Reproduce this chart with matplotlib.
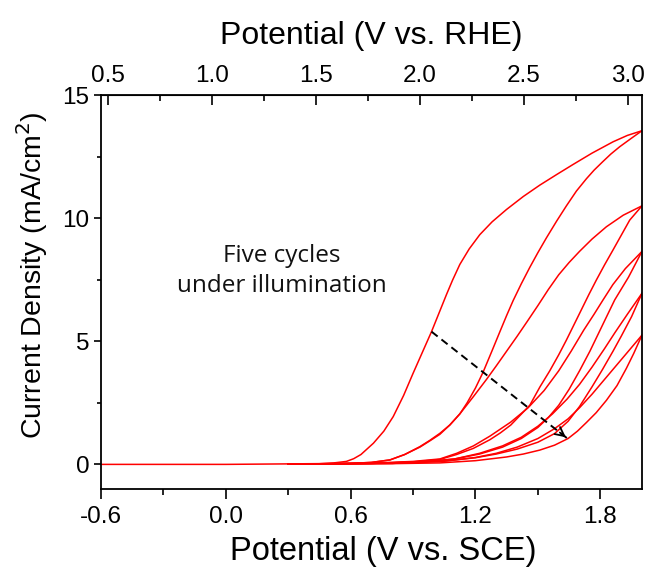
import numpy as np
import matplotlib
matplotlib.use('Agg')
import matplotlib.pyplot as plt
from matplotlib.ticker import MultipleLocator

# --- Data (V vs. SCE, mA/cm2) ---
c1_fwd_v = [-0.6, -0.3, 0.0, 0.3, 0.45, 0.52, 0.58, 0.615, 0.65, 0.71, 0.76, 0.805, 0.855, 0.90,
            0.945, 0.989, 1.03, 1.061, 1.09, 1.125, 1.17, 1.221, 1.28, 1.349, 1.43, 1.509, 1.59,
            1.669, 1.76, 1.861, 1.93, 2.0]
c1_fwd_j = [0.0, 0.0, 0.0, 0.02, 0.03, 0.06, 0.12, 0.23, 0.4, 0.86, 1.35, 1.94, 2.8, 3.69,
            4.55, 5.39, 6.25, 6.9, 7.48, 8.12, 8.75, 9.33, 9.85, 10.35, 10.88, 11.34, 11.77,
            12.18, 12.64, 13.1, 13.36, 13.55]

c1_bwd_v = [2.0, 1.95, 1.893, 1.85, 1.81, 1.77, 1.733, 1.685, 1.637, 1.59, 1.541, 1.50, 1.461,
            1.42, 1.381, 1.35, 1.317, 1.28, 1.237, 1.20, 1.16, 1.125, 1.077, 1.029, 0.98, 0.933,
            0.86, 0.789, 0.7, 0.6, 0.45, 0.3]
c1_bwd_j = [13.55, 13.25, 12.9, 12.6, 12.28, 11.95, 11.6, 11.1, 10.5, 9.88, 9.2, 8.6, 8.0,
            7.33, 6.65, 6.05, 5.38, 4.62, 3.75, 3.1, 2.5, 2.05, 1.6, 1.26, 0.97, 0.72,
            0.4, 0.18, 0.08, 0.04, 0.02, 0.01]

c2_fwd_v = [0.3, 0.6, 0.7, 0.789, 0.86, 0.933, 0.98, 1.029, 1.077, 1.125, 1.19, 1.253, 1.30,
            1.35, 1.40, 1.45, 1.50, 1.55, 1.60, 1.65, 1.70, 1.76, 1.829, 1.91, 2.0]
c2_fwd_j = [0.01, 0.04, 0.08, 0.18, 0.4, 0.7, 0.95, 1.22, 1.6, 2.05, 2.75, 3.45, 4.0,
            4.6, 5.2, 5.82, 6.45, 7.1, 7.7, 8.2, 8.65, 9.15, 9.65, 10.12, 10.5]

c2_bwd_v = [2.0, 1.941, 1.9, 1.861, 1.82, 1.781, 1.745, 1.71, 1.675, 1.637, 1.6, 1.557, 1.51,
            1.461, 1.41, 1.37, 1.32, 1.269, 1.19, 1.109, 1.029, 0.9, 0.75, 0.6, 0.3]
c2_bwd_j = [10.5, 9.92, 9.3, 8.71, 8.1, 7.49, 6.9, 6.3, 5.7, 5.05, 4.45, 3.8, 3.15,
            2.4, 1.95, 1.6, 1.28, 1.0, 0.65, 0.4, 0.2, 0.1, 0.05, 0.03, 0.01]

c3_fwd_v = [0.3, 0.7, 0.9, 1.029, 1.11, 1.19, 1.27, 1.37, 1.453, 1.53, 1.6, 1.66, 1.72, 1.77,
            1.813, 1.86, 1.92, 2.0]
c3_fwd_j = [0.01, 0.05, 0.12, 0.22, 0.45, 0.75, 1.15, 1.72, 2.3, 3.0, 3.8, 4.6, 5.45, 6.1,
            6.68, 7.3, 7.95, 8.65]

c3_bwd_v = [2.0, 1.935, 1.869, 1.83, 1.79, 1.75, 1.7, 1.65, 1.6, 1.55, 1.5, 1.42, 1.33, 1.22,
            1.1, 0.95, 0.7, 0.3]
c3_bwd_j = [8.65, 7.6, 6.68, 6.0, 5.3, 4.6, 3.8, 3.05, 2.4, 1.9, 1.5, 1.05, 0.7, 0.42,
            0.22, 0.1, 0.04, 0.01]

c4_fwd_v = [0.3, 0.7, 0.95, 1.1, 1.22, 1.33, 1.42, 1.5, 1.57, 1.64, 1.7, 1.76, 1.82, 1.87,
            1.93, 2.0]
c4_fwd_j = [0.01, 0.04, 0.1, 0.22, 0.45, 0.75, 1.1, 1.55, 2.05, 2.65, 3.25, 3.95, 4.7, 5.35,
            6.1, 6.95]

c4_bwd_v = [2.0, 1.95, 1.9, 1.861, 1.81, 1.76, 1.7, 1.645, 1.58, 1.5, 1.4, 1.3, 1.2, 1.05,
            0.8, 0.3]
c4_bwd_j = [6.95, 6.0, 5.2, 4.6, 3.85, 3.15, 2.35, 1.75, 1.25, 0.9, 0.62, 0.42, 0.27, 0.13,
            0.04, 0.01]

c5_fwd_v = [0.3, 0.8, 1.05, 1.2, 1.3, 1.4, 1.5, 1.58, 1.645, 1.7, 1.76, 1.82, 1.88, 1.94, 2.0]
c5_fwd_j = [0.01, 0.04, 0.13, 0.28, 0.45, 0.7, 1.05, 1.45, 1.85, 2.3, 2.85, 3.45, 4.05, 4.65,
            5.25]

c5_bwd_v = [2.0, 1.96, 1.925, 1.88, 1.829, 1.78, 1.733, 1.69, 1.645, 1.58, 1.509, 1.43, 1.349,
            1.2, 1.029, 0.8, 0.3]
c5_bwd_j = [5.25, 4.5, 3.9, 3.2, 2.6, 2.1, 1.7, 1.35, 1.05, 0.78, 0.58, 0.42, 0.3,
            0.15, 0.06, 0.03, 0.01]

curves = [
    (c1_fwd_v, c1_fwd_j), (c1_bwd_v, c1_bwd_j),
    (c2_fwd_v, c2_fwd_j), (c2_bwd_v, c2_bwd_j),
    (c3_fwd_v, c3_fwd_j), (c3_bwd_v, c3_bwd_j),
    (c4_fwd_v, c4_fwd_j), (c4_bwd_v, c4_bwd_j),
    (c5_fwd_v, c5_fwd_j), (c5_bwd_v, c5_bwd_j),
]

# arrow showing the decay across cycles
arrow_start = (0.989, 5.39)
arrow_end = (1.645, 1.03)

sce_to_rhe = 1.067  # RHE = SCE + 1.067 V

# --- Plot ---
plt.rcParams['font.family'] = ['Liberation Sans', 'DejaVu Sans']
fig = plt.figure(figsize=(6.46, 5.70), dpi=100)
ax = fig.add_axes([0.1559, 0.1421, 0.8379, 0.6912])

for v, j in curves:
    ax.plot(v, j, color='#ff0000', linewidth=1.1, solid_joinstyle='round')

# dashed arrow
ax.plot([arrow_start[0], arrow_end[0]], [arrow_start[1], arrow_end[1]],
        color='black', linewidth=1.4, dashes=(4, 2.5))
ax.annotate('', xy=arrow_end,
            xytext=(arrow_end[0] - 0.05, arrow_end[1] + 0.05 * 6.65),
            arrowprops=dict(arrowstyle='->', color='black', lw=1.3, mutation_scale=16))

ax.text(0.27, 7.85, 'Five cycles\nunder illumination', ha='center', va='center',
        fontsize=17.5, family=['Open Sans', 'DejaVu Sans'], linespacing=1.3, color='#111111')

ax.set_xlim(-0.6, 2.0)
ax.set_ylim(-1, 15)
ax.set_xticks([-0.6, 0.0, 0.6, 1.2, 1.8])
ax.set_xticklabels(['-0.6', '0.0', '0.6', '1.2', '1.8'])
ax.xaxis.set_minor_locator(MultipleLocator(0.3))
ax.set_yticks([0, 5, 10, 15])
ax.yaxis.set_minor_locator(MultipleLocator(2.5))

ax.tick_params(which='both', direction='out', top=False, right=False, labelsize=17.5, width=1.2)
ax.tick_params(axis='x', which='major', length=7, pad=5)
ax.tick_params(axis='x', which='minor', length=4)
ax.tick_params(axis='y', which='major', length=5, pad=3)
ax.tick_params(axis='y', which='minor', length=3)
for s in ax.spines.values():
    s.set_linewidth(1.3)

ax.set_xlabel('Potential (V vs. SCE)', fontsize=23.5, labelpad=6)
ax.xaxis.label.set_x(0.522)
ax.set_ylabel('Current Density (mA/cm$^2$)', fontsize=20.5, labelpad=9)
ax.yaxis.label.set_y(0.543)

sec = ax.secondary_xaxis('top', functions=(lambda x: x + sce_to_rhe, lambda x: x - sce_to_rhe))
sec.set_xticks([0.5, 1.0, 1.5, 2.0, 2.5, 3.0])
sec.xaxis.set_minor_locator(MultipleLocator(0.25))
sec.tick_params(which='both', direction='in', labelsize=17.5, width=1.2, pad=6)
sec.tick_params(which='major', length=7)
sec.tick_params(which='minor', length=4)
sec.set_xlabel('Potential (V vs. RHE)', fontsize=23, labelpad=15)

fig.savefig('out.png', dpi=100)
